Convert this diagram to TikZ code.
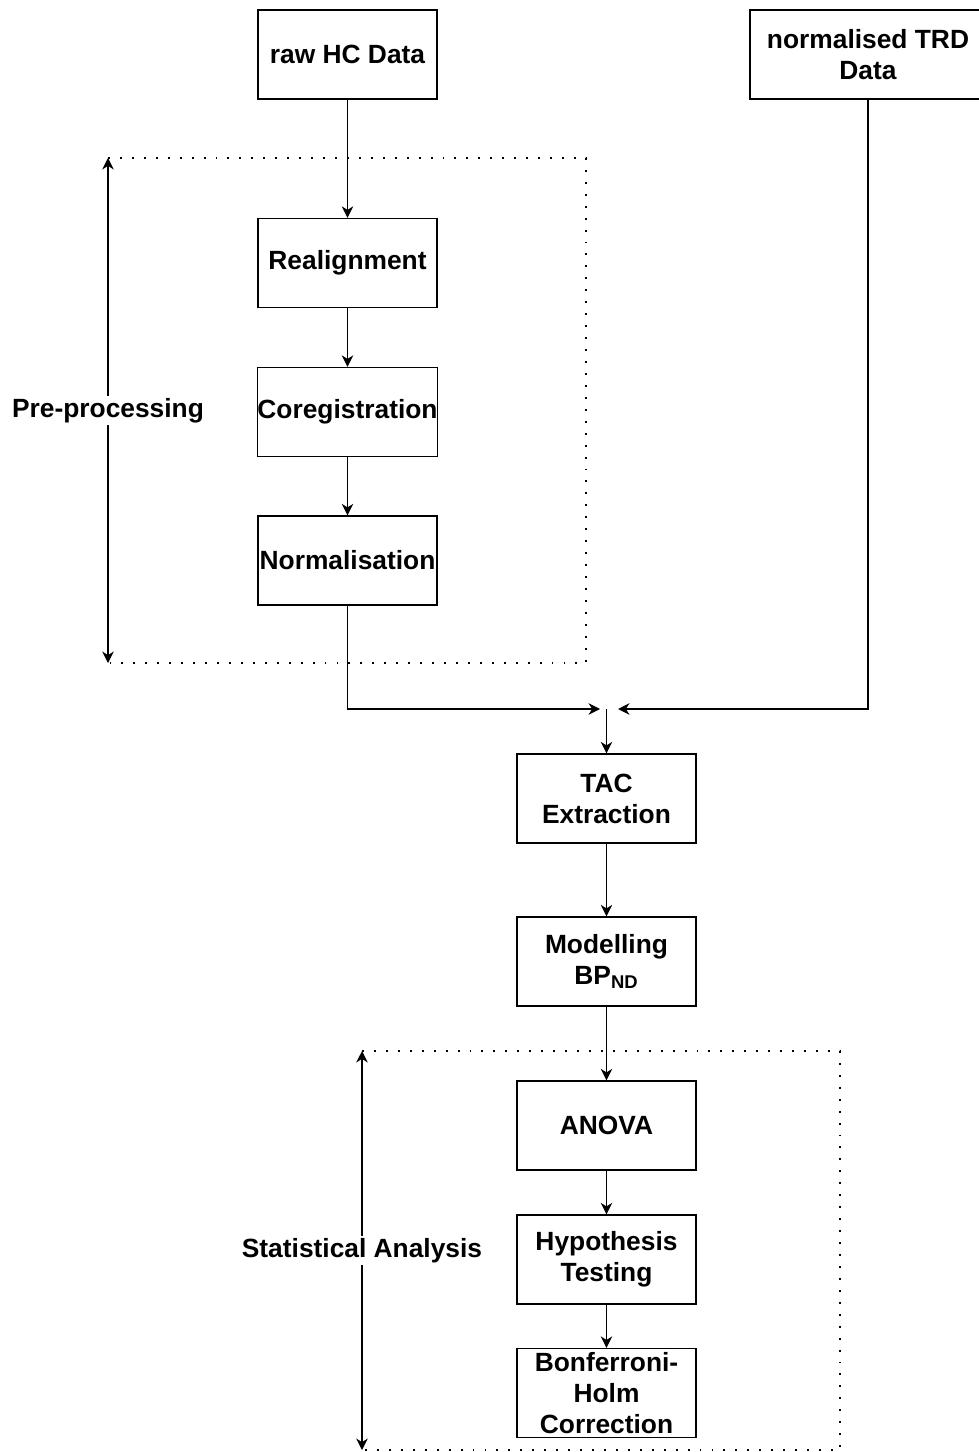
\documentclass[tikz,border=0pt]{standalone}
\usepackage{fontspec}
\setmainfont{Liberation Sans}
\usepackage{tikz}
\usetikzlibrary{arrows.meta}

\begin{document}
\begin{tikzpicture}[x = 0.02cm, y = -0.02cm,
		font = \fontsize{15}{17.6}\selectfont\bfseries,
		stage/.style = {draw, line width = 0.8pt, minimum width = 3.58cm, minimum height = 1.78cm, align = center, inner sep = 0pt},
		flow/.style = {line width = 0.8pt, -{Stealth[length = 6.5pt, width = 6.5pt, inset = 2pt]}},
		span/.style = {line width = 0.8pt, {Stealth[length = 6.5pt, width = 6.5pt, inset = 2pt]}-{Stealth[length = 6.5pt, width = 6.5pt, inset = 2pt]}},
		frame/.style = {line width = 1.1pt, dash pattern = on 1.1pt off 5.7pt},
		tag/.style = {fill = white, inner sep = 1pt}]
	\useasboundingbox (0, 0) rectangle (979, 1452);
	% inputs
	\node[stage] (raw) at (347.5, 54.5) {raw HC Data};
	\node[stage, minimum width = 4.72cm] (trd) at (868, 54.5) {normalised TRD\\Data};
	% pre-processing
	\node[stage] (realign) at (347.5, 263) {Realignment};
	\node[stage] (coreg) at (347.5, 412) {Coregistration};
	\node[stage] (norm) at (347.5, 560.5) {Normalisation};
	% extraction and modelling
	\node[stage] (tac) at (606.5, 798.5) {TAC\\Extraction};
	\node[stage] (model) at (606.5, 961.5) {Modelling\\BP\textsubscript{ND}};
	% statistics
	\node[stage] (anova) at (606.5, 1125.5) {ANOVA};
	\node[stage] (hyp) at (606.5, 1259.5) {Hypothesis\\Testing};
	\node[stage] (bonf) at (606.5, 1393) {Bonferroni-\\Holm\\Correction};
	% frames
	\coordinate (ppTL) at (108, 158);
	\coordinate (ppBR) at (586, 663);
	\coordinate (saTL) at (362, 1051);
	\coordinate (saBR) at (840, 1450);
	\draw[frame] (ppTL) -| (ppBR) -- (ppTL |- ppBR);
	\draw[frame] (saTL) -| (saBR) -- (saTL |- saBR);
	\draw[span] (ppTL) -- (ppTL |- ppBR) node[midway, tag] (pplabel) {Pre-processing};
	\draw[span] (saTL) -- (saTL |- saBR) node[midway, tag] (salabel) {Statistical Analysis};
	% merge
	\coordinate (mergeL) at (600, 709);
	\coordinate (mergeR) at (618, 709);
	\coordinate (merge) at (606.5, 709);
	\draw[flow] (raw) -- (realign);
	\draw[flow] (realign) -- (coreg);
	\draw[flow] (coreg) -- (norm);
	\draw[flow] (norm.south) |- (mergeL);
	\draw[flow] (trd.south) |- (mergeR);
	\draw[flow] (merge) -- (tac);
	\draw[flow] (tac) -- (model);
	\draw[flow] (model) -- (anova);
	\draw[flow] (anova) -- (hyp);
	\draw[flow] (hyp) -- (bonf);
\end{tikzpicture}
\end{document}
